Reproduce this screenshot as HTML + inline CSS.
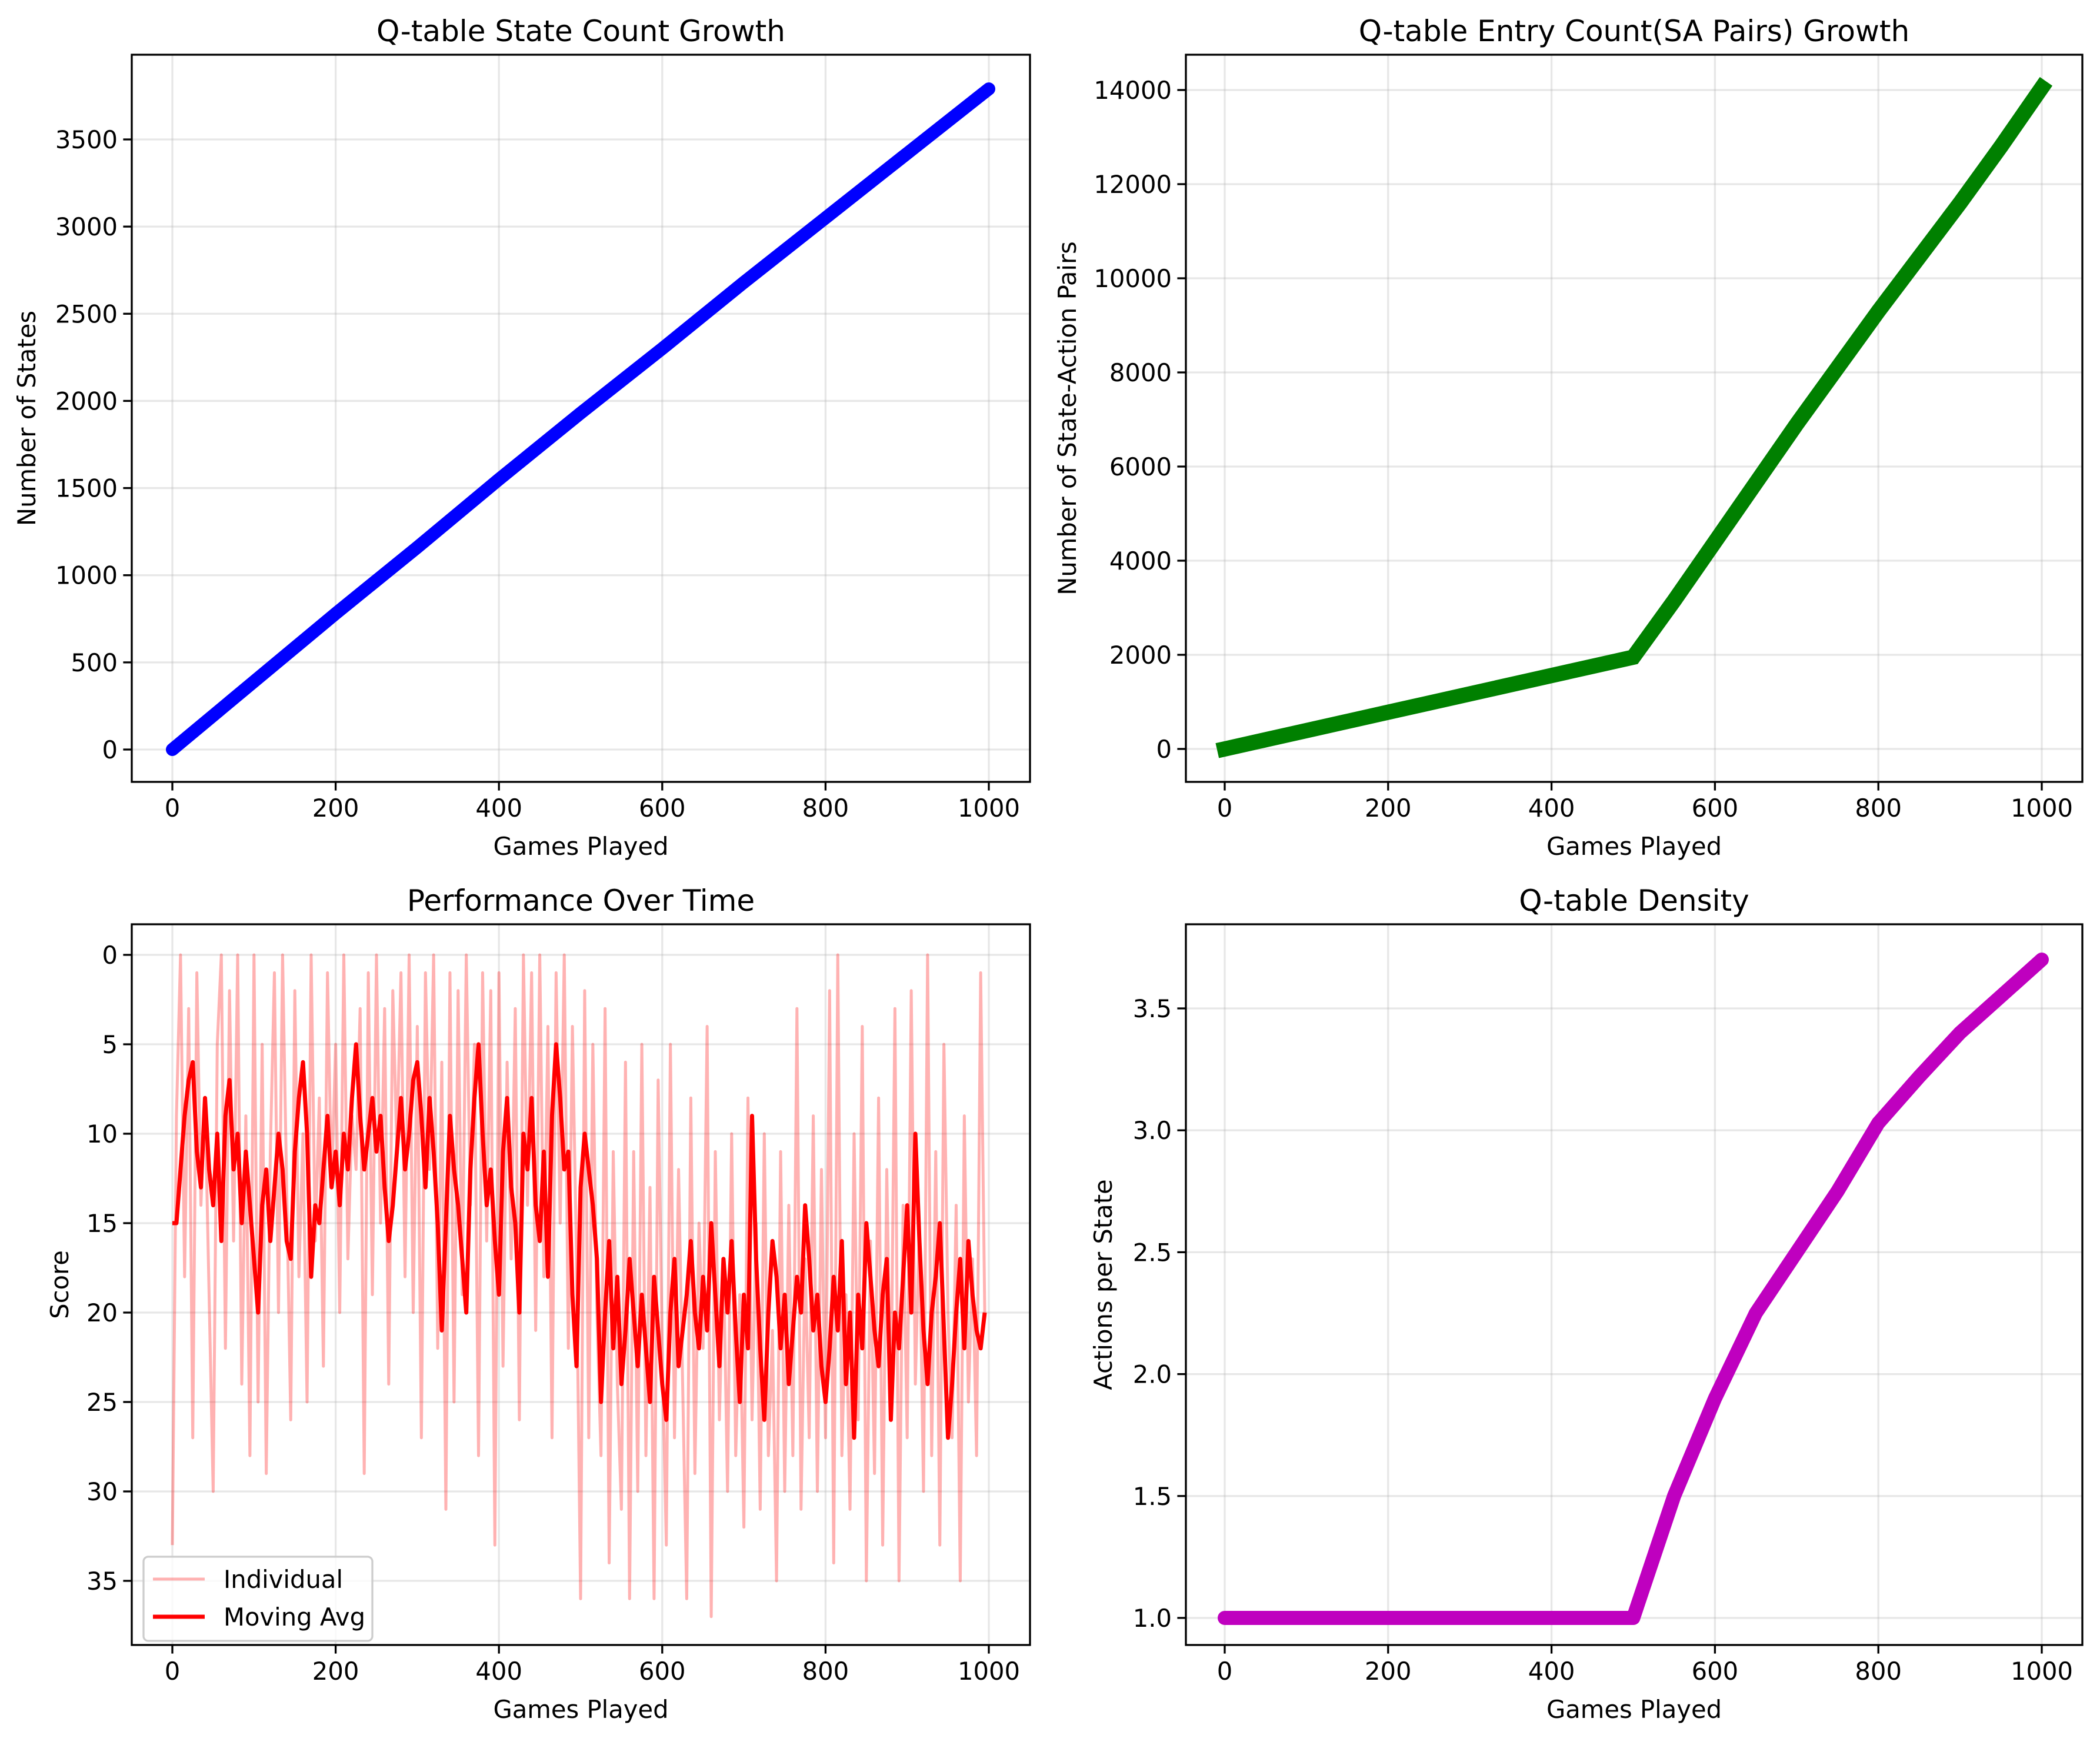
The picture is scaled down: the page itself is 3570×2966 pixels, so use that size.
<!DOCTYPE html>
<html><head><meta charset="utf-8"><style>
html,body{margin:0;padding:0;background:#fff;width:3570px;height:2966px;overflow:hidden}
svg{display:block;position:absolute;left:0;top:0;width:3570px;height:2966px}
svg text{font-family:"DejaVu Sans","Liberation Sans",sans-serif}
</style></head><body>
<svg id="fig" xmlns="http://www.w3.org/2000/svg" width="3570" height="2966" viewBox="0 0 3570 2966"></svg>
<script>
// ---------- data ----------
const stateGames = [0,100,200,300,400,500,600,700,800,900,1000];
const stateCounts = [0,390,780,1160,1550,1930,2300,2680,3050,3420,3790];

const entryGames = [0,100,200,300,400,500,550,600,650,700,750,800,850,900,950,1000];
const entryCounts = [0,390,780,1170,1560,1950,3150,4400,5650,6900,8100,9300,10450,11600,12800,14050];

const densityGames = [0,100,200,300,400,500,525,550,575,600,650,700,750,800,850,900,950,1000];
const densityValues = [1,1,1,1,1,1,1.25,1.5,1.7,1.9,2.25,2.5,2.75,3.03,3.22,3.4,3.55,3.7];

const individualScores = [33,9,0,18,3,27,1,14,8,19,30,5,0,22,2,16,0,24,9,28,0,25,5,29,11,1,20,0,13,26,2,18,10,25,0,16,8,23,1,13,5,20,0,17,9,12,3,29,1,19,0,15,3,24,2,11,1,18,0,20,4,27,1,12,0,22,6,31,1,25,2,19,0,14,5,28,1,16,2,33,1,23,6,17,3,26,0,14,1,21,0,18,4,27,1,15,0,22,4,17,
36,2,27,5,20,28,3,34,11,24,31,6,36,11,30,5,28,13,36,7,22,33,5,27,12,24,36,8,29,15,22,4,37,11,26,17,30,10,28,19,32,8,26,15,31,10,28,21,35,11,30,14,28,3,31,17,27,9,30,12,27,2,34,0,28,19,31,10,26,4,35,16,29,8,33,12,26,3,35,14,27,2,24,15,30,0,28,11,33,5,20,27,14,35,9,25,17,28,1,20];
const movingAvg = [15,15,12,9,7,6,11,13,8,12,14,10,16,9,7,12,10,15,11,14,17,20,14,12,16,13,10,12,16,17,11,8,6,10,18,14,15,12,9,13,11,14,10,12,8,5,9,12,10,8,11,9,13,16,14,11,8,12,10,7,6,9,13,8,11,15,21,15,9,12,14,17,20,12,8,5,10,14,12,16,19,11,8,13,15,20,10,12,8,14,16,11,18,9,5,8,12,11,19,23,
13,10,12,14,17,25,20,16,22,18,24,21,17,20,23,19,22,25,18,21,24,26,20,17,23,21,19,16,20,22,18,21,15,19,23,17,20,16,21,25,19,22,9,17,22,26,20,16,18,22,19,24,21,18,20,14,17,21,19,23,25,22,18,21,16,24,20,27,19,22,15,18,21,23,19,17,26,20,22,18,14,20,10,16,21,24,20,18,15,21,27,24,20,17,22,16,19,21,22,20];
const scoreStep = 5;

const xTicks = [0,200,400,600,800,1000];
const stateTicks = [0,500,1000,1500,2000,2500,3000,3500];
const entryTicks = [0,2000,4000,6000,8000,10000,12000,14000];
const scoreTicks = [0,5,10,15,20,25,30,35];
const densityTicks = [1.0,1.5,2.0,2.5,3.0,3.5];

// ---------- helpers ----------
const NS = "http://www.w3.org/2000/svg";
const svg = document.getElementById('fig');
function mk(tag, attrs, parent){const e=document.createElementNS(NS,tag);for(const k in attrs)e.setAttribute(k,attrs[k]);(parent||svg).appendChild(e);return e;}

function panel(p){
  const g = mk('g',{});
  
  
  const sx = v => p.x0px + v * (p.x1000px - p.x0px) / 1000;
  const sy = v => p.yApx + (v - p.yA) * (p.yBpx - p.yApx) / (p.yB - p.yA);
  const clipId = 'clip-' + p.name;
  const cp = mk('clipPath',{id:clipId},g);
  mk('rect',{x:p.left,y:p.top,width:p.right-p.left,height:p.bottom-p.top},cp);
  xTicks.forEach(t=>{const l=mk('line',{x1:sx(t),x2:sx(t),y1:p.top,y2:p.bottom,stroke:'#b0b0b0','stroke-opacity':0.3,'stroke-width':3.3},g);
    });
  p.yTicks.forEach(t=>{const l=mk('line',{x1:p.left,x2:p.right,y1:sy(t),y2:sy(t),stroke:'#b0b0b0','stroke-opacity':0.3,'stroke-width':3.3},g);
    });
  const dg = mk('g',{'clip-path':'url(#'+clipId+')'},g);
  
  
  p.draw(dg, sx, sy);
  const fr = mk('rect',{x:p.left,y:p.top,width:p.right-p.left,height:p.bottom-p.top,fill:'none',stroke:'#000','stroke-width':3.3},g);
  
  xTicks.forEach(t=>{
    mk('line',{x1:sx(t),x2:sx(t),y1:p.bottom,y2:p.bottom+14.6,stroke:'#000','stroke-width':3.3},g);
    const tx=mk('text',{x:sx(t),y:p.bottom+59,'font-size':41.7,'text-anchor':'middle',fill:'#000'},g);tx.textContent=t;
    
  });
  p.yTicks.forEach(t=>{
    mk('line',{x1:p.left,x2:p.left-14.6,y1:sy(t),y2:sy(t),stroke:'#000','stroke-width':3.3},g);
    const tx=mk('text',{x:p.left-24,y:sy(t)+15,'font-size':41.7,'text-anchor':'end',fill:'#000'},g);tx.textContent=p.fmt?p.fmt(t):t;
    
  });
  const ti=mk('text',{x:(p.left+p.right)/2,y:p.top-23,'font-size':50,'text-anchor':'middle',fill:'#000'},g);ti.textContent=p.title;
  
  const xl=mk('text',{x:(p.left+p.right)/2,y:p.bottom+124,'font-size':41.7,'text-anchor':'middle',fill:'#000'},g);xl.textContent='Games Played';
  
  const cy=(p.top+p.bottom)/2;
  const yl=mk('text',{x:p.ylx,y:cy,'font-size':41.7,'text-anchor':'middle',fill:'#000',transform:`rotate(-90 ${p.ylx} ${cy})`},g);yl.textContent=p.ytitle;
  
}
function pts(xs, ys, sx, sy){return xs.map((x,i)=>sx(x)+','+sy(ys[i])).join(' ');}

panel({name:'state-count-chart',left:224,right:1751,top:93,bottom:1329,x0px:293,x1000px:1681,
  yA:0,yApx:1274,yB:3500,yBpx:237,yTicks:stateTicks,title:'Q-table State Count Growth',ytitle:'Number of States',ylx:60,
  draw:(g,sx,sy)=>{const l=mk('polyline',{points:pts(stateGames,stateCounts,sx,sy),fill:'none',stroke:'#0000ff','stroke-width':22,'stroke-linecap':'round','stroke-linejoin':'round'},g);
    }});

panel({name:'entry-count-chart',left:2016,right:3540,top:93,bottom:1329,x0px:2082,x1000px:3471,
  yA:0,yApx:1273,yB:14000,yBpx:153,yTicks:entryTicks,title:'Q-table Entry Count(SA Pairs) Growth',ytitle:'Number of State-Action Pairs',ylx:1829,
  draw:(g,sx,sy)=>{const l=mk('polyline',{points:pts(entryGames,entryCounts,sx,sy),fill:'none',stroke:'#008000','stroke-width':26,'stroke-linecap':'square','stroke-linejoin':'miter'},g);
    }});

panel({name:'performance-chart',left:224,right:1751,top:1571,bottom:2796,x0px:293,x1000px:1681,
  yA:0,yApx:1623,yB:35,yBpx:2687,yTicks:scoreTicks,title:'Performance Over Time',ytitle:'Score',ylx:116,
  draw:(g,sx,sy)=>{
    const xs=individualScores.map((_,i)=>i*scoreStep);
    const a=mk('polyline',{points:pts(xs,individualScores,sx,sy),fill:'none',stroke:'#ff0000','stroke-opacity':0.3,'stroke-width':5,'stroke-linejoin':'round'},g);
    
    const xm=movingAvg.map((_,i)=>i*scoreStep);
    const b=mk('polyline',{points:pts(xm,movingAvg,sx,sy),fill:'none',stroke:'#ff0000','stroke-width':7,'stroke-linejoin':'round'},g);
    
    const lg=mk('g',{},g);
    mk('rect',{x:244,y:2646,width:389,height:143,rx:8,fill:'#fff','fill-opacity':0.8,stroke:'#cccccc','stroke-width':3.3},lg);
    mk('line',{x1:260,x2:348,y1:2684,y2:2684,stroke:'#ff0000','stroke-opacity':0.3,'stroke-width':5},lg);
    const t1=mk('text',{x:380,y:2699,'font-size':41.7,fill:'#000'},lg);t1.textContent='Individual';
    
    mk('line',{x1:260,x2:348,y1:2748,y2:2748,stroke:'#ff0000','stroke-width':7},lg);
    const t2=mk('text',{x:380,y:2763,'font-size':41.7,fill:'#000'},lg);t2.textContent='Moving Avg';
    
  }});

panel({name:'density-chart',left:2016,right:3540,top:1571,bottom:2796,x0px:2082,x1000px:3471,
  yA:1,yApx:2750,yB:3.5,yBpx:1714,yTicks:densityTicks,title:'Q-table Density',ytitle:'Actions per State',ylx:1890,fmt:t=>t.toFixed(1),
  draw:(g,sx,sy)=>{const l=mk('polyline',{points:pts(densityGames,densityValues,sx,sy),fill:'none',stroke:'#bf00bf','stroke-width':24,'stroke-linecap':'round','stroke-linejoin':'round'},g);
    }});
</script>
</body></html>
